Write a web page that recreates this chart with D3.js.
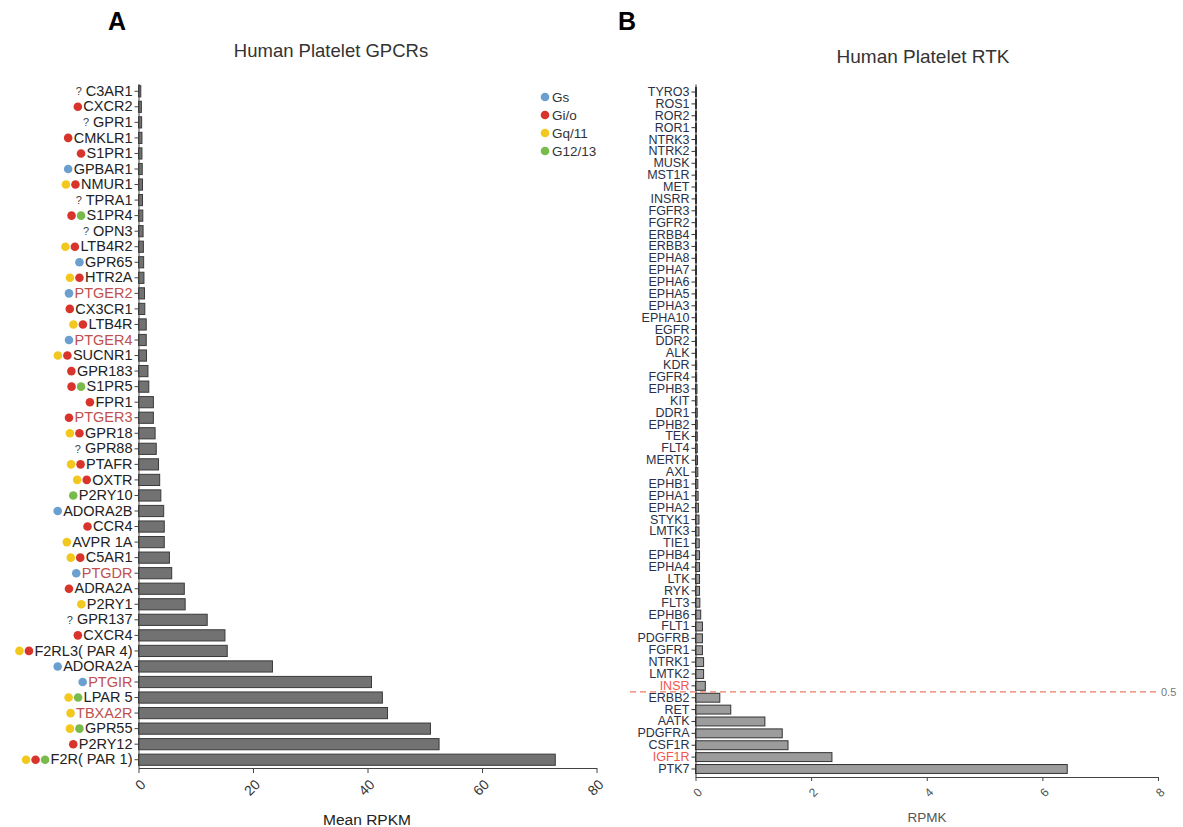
<!DOCTYPE html>
<html>
<head>
<meta charset="utf-8">
<script src="https://cdn.jsdelivr.net/npm/d3@7"></script>
<style>
  body { margin: 0; background: #fff; }
  svg text { font-family: "Liberation Sans", Arial, sans-serif; }
</style>
</head>
<body>
<div id="chart"></div>
<script>
// panel A data (GPCRs, Mean RPKM)
var gpcrNames = ["C3AR1","CXCR2","GPR1","CMKLR1","S1PR1","GPBAR1","NMUR1","TPRA1","S1PR4","OPN3",
  "LTB4R2","GPR65","HTR2A","PTGER2","CX3CR1","LTB4R","PTGER4","SUCNR1","GPR183","S1PR5",
  "FPR1","PTGER3","GPR18","GPR88","PTAFR","OXTR","P2RY10","ADORA2B","CCR4","AVPR 1A",
  "C5AR1","PTGDR","ADRA2A","P2RY1","GPR137","CXCR4","F2RL3( PAR 4)","ADORA2A","PTGIR","LPAR 5",
  "TBXA2R","GPR55","P2RY12","F2R( PAR 1)"];
var gpcrValues = [0.4,0.5,0.55,0.6,0.6,0.65,0.7,0.7,0.75,0.8,
  0.85,0.9,0.95,1.05,1.1,1.35,1.35,1.4,1.65,1.8,
  2.6,2.6,2.9,3.1,3.5,3.7,3.9,4.4,4.5,4.5,
  5.4,5.8,8.0,8.15,12.0,15.1,15.5,23.4,40.7,42.6,
  43.5,51.0,52.5,72.8];
// G protein coupling: s = Gs, i = Gi/o, q = Gq/11, 12 = G12/13, ? = unknown
var gpcrCoupling = ["?","i","?","i","i","s","q,i","?","i,12","?",
  "q,i","s","q,i","s","i","q,i","s","q,i","i","i,12",
  "i","i","q,i","?","q,i","q,i","12","s","i","q",
  "q,i","s","i","q","?","i","q,i","s","s","q,12",
  "q","q,12","i","q,i,12"];
var gpcrRed = ["PTGER2","PTGER4","PTGER3","PTGDR","PTGIR","TBXA2R"];
var gpcrTicks = [0,20,40,60,80];

var legendKeys = ["s","i","q","12"];
var legendLabels = ["Gs","Gi/o","Gq/11","G12/13"];
var dotColors = {"s":"#6a9fd0","i":"#d9342b","q":"#f2c81e","12":"#78bb4c"};

// panel B data (RTKs, RPMK)
var rtkNames = ["TYRO3","ROS1","ROR2","ROR1","NTRK3","NTRK2","MUSK","MST1R","MET","INSRR",
  "FGFR3","FGFR2","ERBB4","ERBB3","EPHA8","EPHA7","EPHA6","EPHA5","EPHA3","EPHA10",
  "EGFR","DDR2","ALK","KDR","FGFR4","EPHB3","KIT","DDR1","EPHB2","TEK",
  "FLT4","MERTK","AXL","EPHB1","EPHA1","EPHA2","STYK1","LMTK3","TIE1","EPHB4",
  "EPHA4","LTK","RYK","FLT3","EPHB6","FLT1","PDGFRB","FGFR1","NTRK1","LMTK2",
  "INSR","ERBB2","RET","AATK","PDGFRA","CSF1R","IGF1R","PTK7"];
var rtkValues = [0.005,0.005,0.005,0.005,0.005,0.005,0.005,0.005,0.005,0.005,
  0.005,0.005,0.005,0.005,0.005,0.005,0.005,0.005,0.005,0.01,
  0.01,0.01,0.01,0.02,0.02,0.025,0.025,0.03,0.03,0.03,
  0.03,0.035,0.04,0.04,0.045,0.05,0.06,0.06,0.065,0.07,
  0.07,0.07,0.07,0.075,0.09,0.12,0.12,0.12,0.14,0.14,
  0.17,0.42,0.61,1.2,1.5,1.6,2.36,6.43];
var rtkRed = ["INSR","IGF1R"];
var rtkTicks = [0,2,4,6,8];
var cutoffLabel = "0.5";

var svg = d3.select("#chart").append("svg")
  .attr("width", 1183)
  .attr("height", 827);

// ---------- panel A ----------
var gA = svg.append("g");

gA.append("text").attr("x", 108).attr("y", 30)
  .style("font-size", "25px").style("font-weight", "bold").text("A");
gA.append("text").attr("x", 331).attr("y", 57).attr("text-anchor", "middle")
  .style("font-size", "18.5px").style("fill", "#333").text("Human Platelet GPCRs");

var xA = d3.scaleLinear().domain([0, 80]).range([138.5, 596.5]);
var yA = d3.scaleBand().domain(gpcrNames).range([83.5, 767.5])
  .paddingInner(0.28).paddingOuter(0.14);

gA.selectAll(".barA")
  .data(gpcrNames)
  .enter()
  .append("rect")
    .attr("class", "barA")
    .attr("x", xA(0))
    .attr("y", function(d) { return yA(d); })
    .attr("width", function(d, i) { return xA(gpcrValues[i]) - xA(0); })
    .attr("height", yA.bandwidth())
    .attr("fill", "#727272")
    .attr("stroke", "#3a3a3a")
    .attr("stroke-width", 1);

var axA = gA.append("g")
  .attr("transform", "translate(" + xA(0) + ",0)")
  .call(d3.axisLeft(yA).tickSize(4).tickSizeOuter(0).tickPadding(2));
axA.selectAll("path, line").attr("stroke", "#444");
axA.selectAll("text")
  .style("font-size", "14.5px")
  .style("fill", function(d) { return gpcrRed.indexOf(d) >= 0 ? "#c0504d" : "#222"; });

// coupling dots / question marks left of each label
axA.selectAll(".tick").each(function(d, i) {
  var tick = d3.select(this);
  var txt = tick.select("text");
  var w = txt.node().getComputedTextLength();
  var xEnd = -6 - w;
  var c = gpcrCoupling[i];
  if (c === "?") {
    tick.append("text").attr("x", xEnd - 4).attr("dy", "0.35em")
      .attr("text-anchor", "end")
      .style("font-size", "11px").style("fill", "#444").text("?");
  } else {
    var keys = c.split(",");
    keys.forEach(function(k, j) {
      tick.append("circle")
        .attr("cx", xEnd - 5.5 - (keys.length - 1 - j) * 9.5)
        .attr("cy", 0)
        .attr("r", 4.3)
        .attr("fill", dotColors[k]);
    });
  }
});

var axAx = gA.append("g")
  .attr("transform", "translate(0,768)")
  .call(d3.axisBottom(xA).tickValues(gpcrTicks).tickSize(5).tickSizeOuter(0));
axAx.selectAll("path, line").attr("stroke", "#444");
axAx.selectAll("text")
  .attr("y", 0).attr("dy", "0.35em")
  .attr("text-anchor", "end")
  .attr("transform", "translate(4,14) rotate(-45)")
  .style("font-size", "14px").style("fill", "#333");

gA.append("text").attr("x", 367).attr("y", 825).attr("text-anchor", "middle")
  .style("font-size", "15.5px").style("fill", "#222").text("Mean RPKM");

// legend
var leg = gA.selectAll(".leg")
  .data(legendKeys)
  .enter()
  .append("g")
    .attr("transform", function(d, i) { return "translate(545," + (97 + i * 18) + ")"; });
leg.append("circle").attr("r", 4.3).attr("fill", function(d) { return dotColors[d]; });
leg.append("text").attr("x", 7).attr("dy", "0.35em")
  .style("font-size", "13.5px").style("fill", "#333")
  .text(function(d, i) { return legendLabels[i]; });

// ---------- panel B ----------
var gB = svg.append("g");

gB.append("text").attr("x", 618).attr("y", 30)
  .style("font-size", "25px").style("font-weight", "bold").text("B");
gB.append("text").attr("x", 923).attr("y", 63).attr("text-anchor", "middle")
  .style("font-size", "19px").style("fill", "#333").text("Human Platelet RTK");

var xB = d3.scaleLinear().domain([0, 8]).range([695.5, 1158]);
var yB = d3.scaleBand().domain(rtkNames).range([84, 777])
  .paddingInner(0.25).paddingOuter(0.3);

gB.selectAll(".barB")
  .data(rtkNames)
  .enter()
  .append("rect")
    .attr("class", "barB")
    .attr("x", xB(0))
    .attr("y", function(d) { return yB(d); })
    .attr("width", function(d, i) { return Math.max(1, xB(rtkValues[i]) - xB(0)); })
    .attr("height", yB.bandwidth())
    .attr("fill", "#9c9c9c")
    .attr("stroke", "#333")
    .attr("stroke-width", 1);

var axB = gB.append("g")
  .attr("transform", "translate(" + xB(0) + ",0)")
  .call(d3.axisLeft(yB).tickSize(4).tickSizeOuter(0).tickPadding(2));
axB.selectAll("path, line").attr("stroke", "#333");
axB.selectAll("text")
  .style("font-size", "12.5px")
  .style("fill", function(d) { return rtkRed.indexOf(d) >= 0 ? "#f0584c" : "#2a3048"; });

var axBx = gB.append("g")
  .attr("transform", "translate(0,777)")
  .call(d3.axisBottom(xB).tickValues(rtkTicks).tickSize(4).tickSizeOuter(0));
axBx.selectAll("path, line").attr("stroke", "#444");
axBx.selectAll("text")
  .attr("y", 0).attr("dy", "0.35em")
  .attr("text-anchor", "end")
  .attr("transform", "translate(4,13) rotate(-45)")
  .style("font-size", "12px").style("fill", "#555");

gB.append("text").attr("x", 927).attr("y", 822).attr("text-anchor", "middle")
  .style("font-size", "13.5px").style("fill", "#555").text("RPMK");

// cut-off line between INSR and ERBB2
var yCut = (yB("INSR") + yB.bandwidth() + yB("ERBB2")) / 2;
gB.append("line")
  .attr("x1", 630).attr("x2", 1157)
  .attr("y1", yCut).attr("y2", yCut)
  .attr("stroke", "#f07a68").attr("stroke-width", 1.2)
  .attr("stroke-dasharray", "6,4");
gB.append("text").attr("x", 1161).attr("y", yCut).attr("dy", "0.35em")
  .style("font-size", "11px").style("fill", "#777").text(cutoffLabel);
</script>
</body>
</html>
